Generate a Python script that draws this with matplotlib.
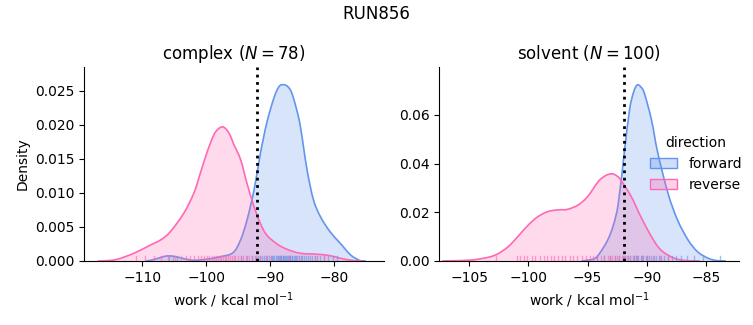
import matplotlib
matplotlib.use("Agg")
import matplotlib.pyplot as plt
from matplotlib.patches import Patch, PathPatch
from matplotlib.path import Path
import numpy as np

# ---- data ----
complex_fwd_x = [-109.5, -108.7, -107.5, -106.5, -105.6, -104.6, -103.3, -101.9, -100.0, -97.9, -95.8,
                 -94.6, -93.6, -92.5, -91.5, -90.5, -89.4, -88.6, -87.9, -87.2, -86.6, -85.9, -85.25,
                 -84.2, -83.2, -82.1, -80.6, -79.0, -77.4, -75.9, -75.0]
complex_fwd_y = [0.0, 0.0001, 0.0004, 0.00068, 0.00074, 0.0006, 0.0003, 0.0001, 0.00025, 0.0006, 0.0012,
                 0.0031, 0.0060, 0.0104, 0.0158, 0.0203, 0.0239, 0.0256, 0.0259, 0.0256, 0.0247, 0.0225, 0.0198,
                 0.0134, 0.0090, 0.0065, 0.0043, 0.0026, 0.0009, 0.00005, 0.0]

complex_rev_x = [-117.0, -115.5, -113.9, -111.3, -108.7, -107.1, -105.6, -103.5, -101.9, -100.9, -99.8,
                 -98.8, -98.1, -97.4, -96.8, -96.2, -95.7, -94.6, -93.6, -92.5, -91.5, -90.5, -88.9,
                 -87.3, -85.25, -82.7, -80.6, -79.0, -76.9, -75.5]
complex_rev_y = [0.0, 0.00005, 0.00025, 0.00113, 0.00235, 0.0031, 0.0043, 0.0070, 0.0100, 0.0129, 0.0161,
                 0.0185, 0.0194, 0.0197, 0.0193, 0.0184, 0.0172, 0.0149, 0.0114, 0.0080, 0.0055, 0.0038, 0.0025,
                 0.0017, 0.00113, 0.0010, 0.00078, 0.0004, 0.00005, 0.0]

solvent_fwd_x = [-95.5, -94.5, -94.0, -93.3, -92.8, -92.4, -91.9, -91.45, -91.1, -90.8, -90.5, -90.2,
                 -89.6, -89.06, -88.2, -87.4, -86.5, -85.7, -84.8, -84.0, -83.3]
solvent_fwd_y = [0.0, 0.0008, 0.0030, 0.0086, 0.0150, 0.0237, 0.0443, 0.0621, 0.0695, 0.0723, 0.0715, 0.0689,
                 0.0580, 0.0443, 0.0278, 0.0169, 0.0086, 0.0038, 0.0011, 0.0001, 0.0]

solvent_rev_x = [-107.3, -106.5, -104.8, -103.4, -102.6, -101.7, -100.9, -100.0, -99.2, -98.35, -97.5,
                 -96.7, -95.8, -95.0, -94.1, -93.5, -93.0, -92.6, -92.2, -91.3, -90.5, -89.6, -88.8,
                 -87.65, -86.5, -85.5]
solvent_rev_y = [0.0, 0.0001, 0.0004, 0.0015, 0.0029, 0.0059, 0.0100, 0.0148, 0.0182, 0.0203, 0.0210,
                 0.0212, 0.0230, 0.0264, 0.0326, 0.0350, 0.0358, 0.0352, 0.0333, 0.0264, 0.0182, 0.0100, 0.0045,
                 0.0011, 0.0001, 0.0]

# rug positions (work values, kcal/mol)
complex_fwd_rug = [-105.8, -105.2, -104.6, -94.5, -93.6, -92.8, -92.3, -91.9, -91.5, -91.2, -90.9, -90.6,
                   -90.4, -90.1, -89.9, -89.7, -89.5, -89.3, -89.1, -88.9, -88.8, -88.6, -88.5, -88.3,
                   -88.2, -88.0, -87.9, -87.8, -87.6, -87.5, -87.4, -87.2, -87.1, -86.9, -86.8, -86.6,
                   -86.5, -86.3, -86.1, -85.9, -85.7, -85.5, -85.2, -85.0, -84.7, -84.4, -84.1, -83.8,
                   -83.4, -83.0, -82.6, -82.1, -81.5, -80.9, -80.2, -79.5]
complex_rev_rug = [-111.0, -109.5, -108.2, -107.0, -105.9, -104.8, -104.0, -103.2, -102.5, -101.9, -101.3,
                   -100.8, -100.3, -99.9, -99.5, -99.1, -98.8, -98.5, -98.2, -97.9, -97.6, -97.4, -97.1,
                   -96.9, -96.6, -96.3, -96.0, -95.7, -95.4, -95.0, -94.6, -94.2, -93.8, -93.3, -92.8,
                   -92.2, -91.5, -90.7, -89.8, -88.5, -87.0, -85.5, -83.0, -81.5]
solvent_fwd_rug = [-94.2, -93.6, -93.1, -92.7, -92.3, -92.0, -91.8, -91.6, -91.4, -91.2, -91.1, -90.9,
                   -90.8, -90.7, -90.5, -90.4, -90.3, -90.1, -90.0, -89.8, -89.6, -89.4, -89.2, -89.0,
                   -88.8, -88.5, -88.2, -87.9, -87.5, -87.1, -86.6, -86.0, -85.2, -83.8]
solvent_rev_rug = [-102.7, -101.0, -100.7, -100.4, -100.1, -99.7, -99.4, -99.0, -98.7, -98.4, -98.1,
                   -97.8, -97.5, -97.2, -96.9, -96.5, -96.2, -95.9, -95.5, -95.1, -94.8, -94.5, -94.2,
                   -93.9, -93.6, -93.3, -93.1, -92.9, -92.7, -92.5, -92.3, -92.1, -91.9, -91.7, -91.4,
                   -91.1, -90.8, -90.4, -90.0, -89.5, -88.9, -88.2]

complex_dg = -92.1
solvent_dg = -91.95
directions = ["forward", "reverse"]
colors = {"forward": "cornflowerblue", "reverse": "hotpink"}


def smooth_path(x, y, closed_to_baseline=False):
    """Smooth Bezier path through the read points (Catmull-Rom style handles)."""
    pts = np.column_stack([x, y])
    n = len(pts)
    verts = [pts[0]]
    codes = [Path.MOVETO]
    for i in range(n - 1):
        p0 = pts[i - 1] if i > 0 else pts[i]
        p1 = pts[i]
        p2 = pts[i + 1]
        p3 = pts[i + 2] if i + 2 < n else pts[i + 1]
        c1 = p1 + (p2 - p0) / 6.0
        c2 = p2 - (p3 - p1) / 6.0
        c1[1] = max(c1[1], 0.0)
        c2[1] = max(c2[1], 0.0)
        verts += [c1, c2, p2]
        codes += [Path.CURVE4] * 3
    if closed_to_baseline:
        verts += [(pts[-1][0], 0.0), (pts[0][0], 0.0), pts[0]]
        codes += [Path.LINETO, Path.LINETO, Path.CLOSEPOLY]
    return Path(verts, codes)


fig = plt.figure(figsize=(7.53, 3.25), dpi=100)
ax1 = fig.add_axes([0.1116, 0.197, 0.398, 0.597])
ax2 = fig.add_axes([0.5834, 0.197, 0.398, 0.597])

panels = [
    (ax1, "complex ($N = 78$)", complex_fwd_x, complex_fwd_y, complex_rev_x, complex_rev_y,
     complex_fwd_rug, complex_rev_rug, complex_dg, (-119.1, -72.2), (0, 0.0285)),
    (ax2, "solvent ($N = 100$)", solvent_fwd_x, solvent_fwd_y, solvent_rev_x, solvent_rev_y,
     solvent_fwd_rug, solvent_rev_rug, solvent_dg, (-107.53, -82.2), (0, 0.0797)),
]

for ax, title, fx, fy, rx, ry, frug, rrug, dg, xl, yl in panels:
    for x, y, d in [(fx, fy, "forward"), (rx, ry, "reverse")]:
        ax.add_patch(PathPatch(smooth_path(x, y, True), facecolor=colors[d], alpha=0.25, lw=0))
        ax.add_patch(PathPatch(smooth_path(x, y), facecolor="none", edgecolor=colors[d], lw=1.2))
    for rug, d in [(frug, "forward"), (rrug, "reverse")]:
        for v in rug:
            ax.axvline(v, ymin=0, ymax=0.025, color=colors[d], alpha=0.6, lw=1)
    ax.axvline(dg, color="black", ls=":", lw=2)
    ax.set_xlim(*xl)
    ax.set_ylim(*yl)
    ax.set_title(title, fontsize=12)
    ax.set_xlabel("work / kcal mol$^{-1}$")
    ax.spines["top"].set_visible(False)
    ax.spines["right"].set_visible(False)

ax1.set_xticks([-110, -100, -90, -80])
ax1.set_yticks([0.0, 0.005, 0.010, 0.015, 0.020, 0.025])
ax1.set_yticklabels(["0.000", "0.005", "0.010", "0.015", "0.020", "0.025"])
ax1.set_ylabel("Density")
ax2.set_xticks([-105, -100, -95, -90, -85])
ax2.set_yticks([0.0, 0.02, 0.04, 0.06])
ax2.set_yticklabels(["0.00", "0.02", "0.04", "0.06"])

handles = [Patch(facecolor=matplotlib.colors.to_rgba(colors[d], 0.3),
                 edgecolor=colors[d], label=d) for d in directions]
ax2.legend(handles=handles, title="direction", frameon=False, loc="center left",
           bbox_to_anchor=(0.66, 0.50), fontsize=10, title_fontsize=10)

fig.suptitle("RUN856", fontsize=12, y=0.985)
fig.savefig("out.png", dpi=100)
